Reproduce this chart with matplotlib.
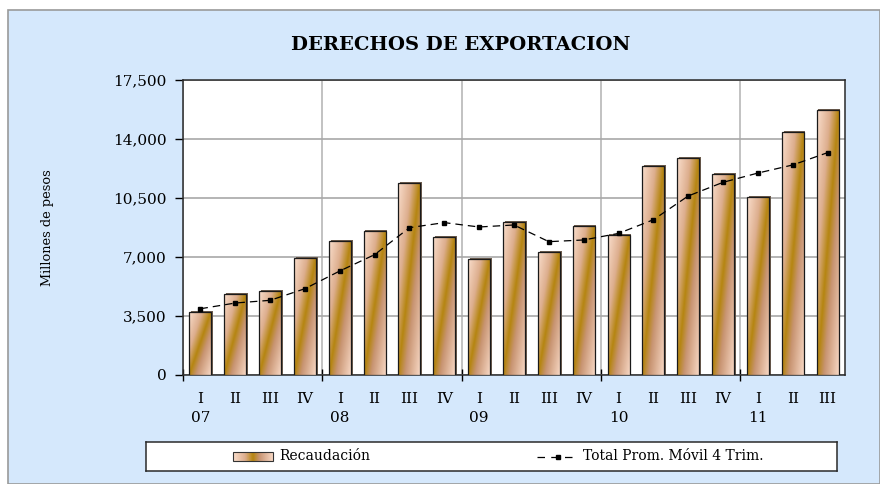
import numpy as np
import matplotlib.pyplot as plt
from matplotlib.patches import Rectangle
from matplotlib.colors import LinearSegmentedColormap
from matplotlib.lines import Line2D

################################################################################
# Data (millones de pesos)
################################################################################

quarters = ["I", "II", "III", "IV"] * 4 + ["I", "II", "III"]
years = ["07", "08", "09", "10", "11"]

recaudacion = [3720, 4790, 4980, 6940, 7930, 8520, 11370, 8170, 6880, 9060,
               7280, 8820, 8300, 12380, 12860, 11940, 10540, 14400, 15700]
prom_movil = [3930, 4270, 4430, 5120, 6170, 7140, 8740, 9040, 8780, 8900,
              7910, 8010, 8400, 9210, 10620, 11430, 11980, 12460, 13190]

y_ticks = [0, 3500, 7000, 10500, 14000, 17500]

################################################################################
# Figure
################################################################################

plt.rcParams["font.family"] = "DejaVu Serif"

fig = plt.figure(figsize=(8.8, 4.84), dpi=100)
fig.patch.set_facecolor("white")

# light blue frame
bg = Rectangle((8 / 880, 0), 1 - 8 / 880, 1 - 10 / 484, transform=fig.transFigure,
               facecolor="#D5E8FC", edgecolor="#9a9a9a", linewidth=1.2, zorder=-10)
fig.patches.append(bg)

ax = fig.add_axes([183 / 880, 1 - 375 / 484, 662 / 880, 295 / 484])
ax.set_facecolor("white")

x = np.arange(len(recaudacion))
bar_w = 0.63

cmap = LinearSegmentedColormap.from_list(
    "bronze", [(0.0, "#F9DDCB"), (0.3, "#DDAE8E"), (0.5, "#B5850F"),
               (0.66, "#C89472"), (1.0, "#F6D6C2")])

# shadows
for xi, h in zip(x, recaudacion):
    ax.add_patch(Rectangle((xi - bar_w / 2 + 0.05, 0), bar_w, h + 60,
                           facecolor="#6e5e50", edgecolor="none", zorder=2))

bars = ax.bar(x, recaudacion, width=bar_w, facecolor="none", edgecolor="#1a1a1a",
              linewidth=0.9, zorder=4)

# gradient fill clipped to each bar
gx, gy = np.meshgrid(np.linspace(0, 1, 40), np.linspace(0, 1, 120))
grad = (gx - gy + 1) / 2
for b in bars:
    x0, w, h = b.get_x(), b.get_width(), b.get_height()
    im = ax.imshow(grad, cmap=cmap, extent=[x0, x0 + w, 0, h], origin="lower",
                   aspect="auto", zorder=3, interpolation="bilinear")
    im.set_clip_path(b)

ax.plot(x, prom_movil, color="black", linestyle=(0, (6, 4)), linewidth=0.9,
        marker="s", markersize=3.5, zorder=5)

ax.set_xlim(-0.5, len(x) - 0.5)
ax.set_ylim(0, 17500)
ax.set_aspect("auto")

ax.set_yticks(y_ticks)
ax.set_yticklabels([f"{v:,}" for v in y_ticks], fontsize=11)
ax.tick_params(axis="y", direction="out", length=6, width=1, pad=6)

xlabels = []
for i, q in enumerate(quarters):
    xlabels.append(q + "\n" + (years[i // 4] if i % 4 == 0 else " "))
ax.set_xticks(x)
ax.set_xticklabels(xlabels, fontsize=11, linespacing=1.45)
ax.tick_params(axis="x", which="major", length=0, pad=12)
ax.set_xticks(np.arange(-0.5, len(x), 4), minor=True)
ax.tick_params(axis="x", which="minor", direction="inout", length=9, width=1)

ax.grid(axis="y", color="#a8a8a8", linewidth=1.2, zorder=1)
ax.grid(axis="x", which="minor", color="#b8b8b8", linewidth=1.2, zorder=1)
ax.set_axisbelow(True)

for s in ax.spines.values():
    s.set_color("#2a2a2a")
    s.set_linewidth(1.1)

fig.text(461 / 880, 1 - 45 / 484, "DERECHOS DE EXPORTACION", ha="center", va="center",
         fontsize=14, fontweight="bold")
fig.text(47 / 880, 1 - 228 / 484, "Millones de pesos", rotation=90, ha="center",
         va="center", fontsize=9.3)

################################################################################
# Legend box
################################################################################

lax = fig.add_axes([146 / 880, 1 - 471 / 484, 691 / 880, 29 / 484])
lax.set_xlim(0, 691)
lax.set_ylim(0, 29)
lax.set_xticks([])
lax.set_yticks([])
lax.set_facecolor("white")
for s in lax.spines.values():
    s.set_color("#2a2a2a")
    s.set_linewidth(1.1)

leg_patch = Rectangle((87, 10), 40, 9, facecolor="none", edgecolor="#333333",
                      linewidth=0.8, zorder=3)
lax.add_patch(leg_patch)
lim = lax.imshow(np.linspace(0, 1, 60)[None, :], cmap=cmap, extent=[87, 127, 10, 19],
                 aspect="auto", zorder=2)
lim.set_clip_path(leg_patch)
lax.text(133, 14.5, "Recaudación", va="center", ha="left", fontsize=10)

lax.add_line(Line2D([391, 432], [14.5, 14.5], color="black", linestyle=(0, (6, 5)),
                    linewidth=0.9))
lax.add_line(Line2D([411.5], [14.5], color="black", marker="s", markersize=3.5))
lax.text(437, 14.5, "Total Prom. Móvil 4 Trim.", va="center", ha="left", fontsize=10)

fig.savefig("out.png", dpi=100, facecolor=fig.get_facecolor())
